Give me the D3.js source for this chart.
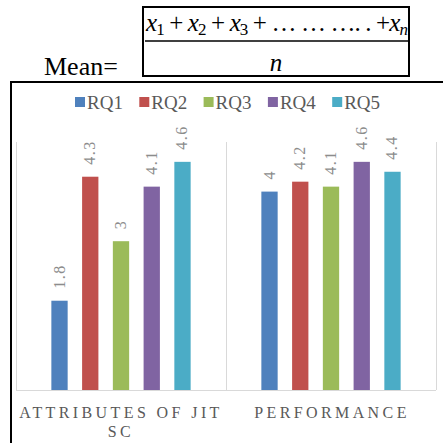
<!DOCTYPE html>
<html><head><meta charset="utf-8">
<script src="https://cdn.jsdelivr.net/npm/d3@7"></script>
<style>html,body{margin:0;padding:0;background:#fff;}svg{display:block;}</style>
</head><body>
<script>
const categories = ["ATTRIBUTES OF JIT SC", "PERFORMANCE"];
const categoryLines = [["ATTRIBUTES OF JIT", "SC"], ["PERFORMANCE"]];
const series = ["RQ1", "RQ2", "RQ3", "RQ4", "RQ5"];
const values = {
  "RQ1": [1.8, 4.0],
  "RQ2": [4.3, 4.2],
  "RQ3": [3.0, 4.1],
  "RQ4": [4.1, 4.6],
  "RQ5": [4.6, 4.4]
};
const colors = ["#4F81BD", "#C0504D", "#9BBB59", "#8064A2", "#4BACC6"];
const yMax = 5;

const W = 443, H = 443;
const svg = d3.select("body").append("svg").attr("width", W).attr("height", H);
svg.append("rect").attr("width", W).attr("height", H).attr("fill", "#fff");

// ---- formula ----
const serif = "'Liberation Serif','Times New Roman',serif";
svg.append("text").attr("x", 44).attr("y", 75)
  .attr("font-family", serif).attr("font-size", 26).attr("fill", "#000").text("Mean=");
svg.append("rect").attr("x", 143).attr("y", 7).attr("width", 266).attr("height", 69)
  .attr("fill", "none").attr("stroke", "#000").attr("stroke-width", 2);
svg.append("line").attr("x1", 145).attr("x2", 408).attr("y1", 41).attr("y2", 41)
  .attr("stroke", "#000").attr("stroke-width", 1.3);
const num = svg.append("text").attr("x", 146).attr("y", 31)
  .attr("font-family", serif).attr("font-size", 25).attr("fill", "#000")
  .attr("textLength", 262).attr("lengthAdjust", "spacing");
const parts = [
  ["x", "i"], ["1", "s"], [" + ", "n"], ["x", "i"], ["2", "s"], [" + ", "n"],
  ["x", "i"], ["3", "s"], [" +  … … …. . +", "n"], ["x", "i"], ["n", "si"]
];
parts.forEach((p, i) => {
  const t = num.append("tspan").text(p[0]);
  const isSub = p[1] === "s" || p[1] === "si";
  const prev = parts[i - 1];
  const prevSub = prev && (prev[1] === "s" || prev[1] === "si");
  if (p[1] === "i" || p[1] === "si") t.attr("font-style", "italic");
  if (isSub) t.attr("font-size", 17).attr("dy", 4);
  else if (prevSub) t.attr("dy", -4);
});
svg.append("text").attr("x", 276).attr("y", 71).attr("text-anchor", "middle")
  .attr("font-family", serif).attr("font-style", "italic").attr("font-size", 25).text("n");

// ---- chart frame ----
svg.append("line").attr("x1", 10).attr("x2", W).attr("y1", 82).attr("y2", 82)
  .attr("stroke", "#000").attr("stroke-width", 2);
svg.append("line").attr("x1", 11).attr("x2", 11).attr("y1", 81).attr("y2", H)
  .attr("stroke", "#000").attr("stroke-width", 2);

// ---- scales ----
const plotL = 16, plotR = 436, plotT = 142, plotB = 390;
const x0 = d3.scaleBand().domain(categories).range([plotL, plotR]).padding(0);
const x1 = d3.scaleBand().domain(series).range([0, x0.bandwidth()])
  .paddingInner(0.47).paddingOuter(1.15);
const y = d3.scaleLinear().domain([0, yMax]).range([plotB, plotT]);

// grid: vertical separators and baseline
const grid = svg.append("g").attr("stroke", "#d9d9d9").attr("stroke-width", 1);
const seps = categories.map(c => x0(c)).concat([x0(categories[categories.length - 1]) + x0.bandwidth()]);
seps.forEach(sx => grid.append("line").attr("x1", sx + 0.5).attr("x2", sx + 0.5)
  .attr("y1", y(yMax)).attr("y2", plotB));
grid.append("line").attr("x1", plotL).attr("x2", plotR).attr("y1", plotB + 0.5).attr("y2", plotB + 0.5);

// bars
const groups = svg.append("g").selectAll("g").data(categories).join("g")
  .attr("transform", c => `translate(${x0(c)},0)`);
groups.each(function(c, ci) {
  const g = d3.select(this);
  series.forEach((s, si) => {
    const v = values[s][ci];
    g.append("rect").attr("x", x1(s)).attr("y", y(v))
      .attr("width", x1.bandwidth()).attr("height", plotB - y(v))
      .attr("fill", colors[si]);
    const cx = x1(s) + x1.bandwidth() / 2;
    g.append("text")
      .attr("transform", `translate(${cx + 5},${y(v) - 12}) rotate(-90)`)
      .attr("font-family", serif).attr("font-size", 16).attr("letter-spacing", 1.5)
      .attr("fill", "#8c8c8c").text(String(v));
  });
});

// category labels
categories.forEach((c, ci) => {
  const cx = x0(c) + x0.bandwidth() / 2 + (ci === 0 ? 0 : 1);
  categoryLines[ci].forEach((line, li) => {
    svg.append("text").attr("x", cx).attr("y", 418 + li * 19)
      .attr("text-anchor", "middle").attr("font-family", serif).attr("font-size", 16)
      .attr("letter-spacing", 3.4).attr("fill", "#595959").text(line);
  });
});

// legend
const legStep = 64.3, legX = 75, legY = 102;
const leg = svg.append("g").selectAll("g").data(series).join("g")
  .attr("transform", (d, i) => `translate(${legX + i * legStep},${legY})`);
leg.append("rect").attr("x", 0).attr("y", -5).attr("width", 10).attr("height", 10)
  .attr("fill", (d, i) => colors[i]);
leg.append("text").attr("x", 12).attr("y", 6.5).attr("font-family", serif)
  .attr("font-size", 19).attr("fill", "#595959").text(d => d);
</script>
</body></html>
